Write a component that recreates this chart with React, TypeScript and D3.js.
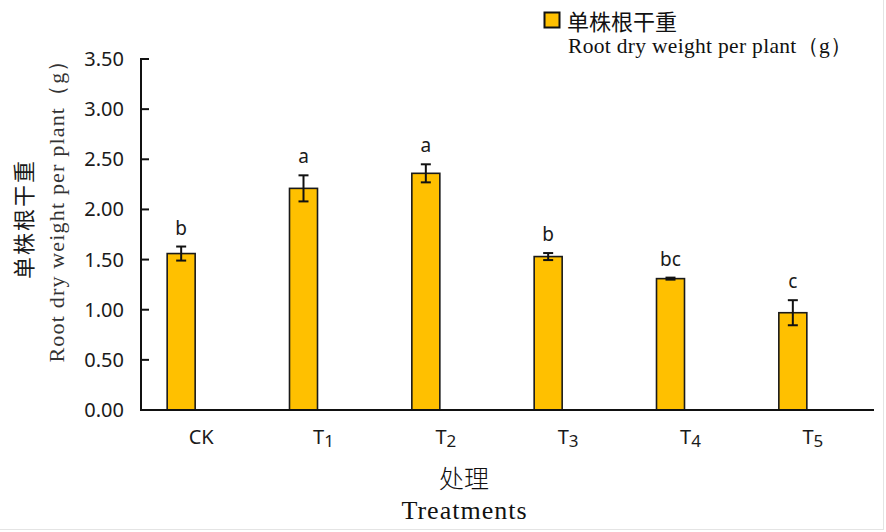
import React from "react";
import * as d3 from "d3";

const categories = ["CK", "T1", "T2", "T3", "T4", "T5"];
const tickMain = ["CK", "T", "T", "T", "T", "T"];
const tickSub = ["", "1", "2", "3", "4", "5"];
const means = [1.56, 2.21, 2.36, 1.53, 1.31, 0.97];
const errors = [0.07, 0.13, 0.09, 0.035, 0.01, 0.125];
const letters = ["b", "a", "a", "b", "bc", "c"];
const yTicks = [0, 0.5, 1, 1.5, 2, 2.5, 3, 3.5];

const W = 886;
const H = 532;
const axisLeft = 141;
const axisRight = 874;
const plotTop = 59;
const plotBottom = 410;
const barOffset = -20;
const barWidth = 28;
const capW = 10;

export default function App() {
  const x = d3.scaleBand<string>().domain(categories).range([140, 874]);
  const y = d3.scaleLinear().domain([0, 3.5]).range([plotBottom, plotTop]);
  const sans = "'Noto Sans', 'DejaVu Sans', sans-serif";
  const serif = "'Liberation Serif', 'DejaVu Serif', serif";
  const cjk = "'Noto Sans CJK SC', sans-serif";

  return (
    <svg width={W} height={H} style={{ position: "absolute", left: 0, top: 0, background: "#fff" }}>
      <rect x={0} y={0} width={W} height={H} fill="#fff" />
      <line x1={883.5} y1={0} x2={883.5} y2={530} stroke="#e4e4e4" strokeWidth={1} />
      <line x1={0} y1={529.5} x2={884} y2={529.5} stroke="#e4e4e4" strokeWidth={1} />

      {/* legend */}
      <rect x={544.5} y={12.5} width={15} height={15} fill="#FFC000" stroke="#111" strokeWidth={2} />
      <text x={567} y={30} fontFamily={cjk} fontSize={22} fill="#111">单株根干重</text>
      <text x={568} y={53} fontFamily={serif} fontSize={21.5} fill="#111" textLength={284} lengthAdjust="spacing">
        Root dry weight per plant（g）
      </text>

      {/* bars */}
      {categories.map((c, i) => {
        const cx = (x(c) as number) + x.bandwidth() / 2 + barOffset;
        return (
          <rect
            key={c}
            x={cx - barWidth / 2}
            y={y(means[i])}
            width={barWidth}
            height={plotBottom - y(means[i])}
            fill="#FFC000"
            stroke="#1a1a1a"
            strokeWidth={1.6}
          />
        );
      })}

      {/* error bars */}
      {categories.map((c, i) => {
        const cx = (x(c) as number) + x.bandwidth() / 2 + barOffset;
        const yt = y(means[i] + errors[i]);
        const yb = y(means[i] - errors[i]);
        return (
          <g key={"e" + c} stroke="#111" strokeWidth={2}>
            <line x1={cx} x2={cx} y1={yt} y2={yb} />
            <line x1={cx - capW / 2} x2={cx + capW / 2} y1={yt} y2={yt} />
            <line x1={cx - capW / 2} x2={cx + capW / 2} y1={yb} y2={yb} />
          </g>
        );
      })}

      {/* significance letters */}
      {categories.map((c, i) => {
        const cx = (x(c) as number) + x.bandwidth() / 2 + barOffset;
        return (
          <text key={"l" + c} x={cx} y={y(means[i] + errors[i]) - 12} textAnchor="middle" fontFamily={sans} fontSize={19} fill="#1a1a1a">
            {letters[i]}
          </text>
        );
      })}

      {/* axes */}
      <line x1={axisLeft} x2={axisLeft} y1={plotTop - 1} y2={plotBottom} stroke="#111" strokeWidth={2} />
      <line x1={140} x2={axisRight} y1={plotBottom} y2={plotBottom} stroke="#111" strokeWidth={2} />
      {yTicks.map((t) => (
        <g key={"t" + t}>
          <line x1={axisLeft} x2={axisLeft + 8} y1={y(t)} y2={y(t)} stroke="#111" strokeWidth={2} />
          <text x={124} y={y(t)} dy="0.35em" textAnchor="end" fontFamily={sans} fontSize={20} fill="#1a1a1a">
            {d3.format(".2f")(t)}
          </text>
        </g>
      ))}
      {categories.map((c, i) => {
        const cx = (x(c) as number) + x.bandwidth() / 2;
        return (
          <text key={"x" + c} x={cx} y={444} textAnchor="middle" fontFamily={sans} fontSize={20} fill="#1a1a1a">
            {tickMain[i]}
            {tickSub[i] ? (
              <tspan fontSize={17} dy={3}>{tickSub[i]}</tspan>
            ) : null}
          </text>
        );
      })}

      {/* axis titles */}
      <text x={464} y={488} textAnchor="middle" fontFamily={cjk} fontSize={25} fontWeight={300} fill="#111">处理</text>
      <text x={464} y={519} textAnchor="middle" fontFamily={serif} fontSize={26} fill="#111" textLength={125} lengthAdjust="spacing">
        Treatments
      </text>

      <g transform="translate(32,219) rotate(-90)">
        <text x={0} y={0} textAnchor="middle" fontFamily={cjk} fontSize={22} fill="#1a1a1a" letterSpacing={2}>
          单株根干重
        </text>
      </g>
      <g transform="translate(64,206) rotate(-90)">
        <text x={0} y={0} textAnchor="middle" fontFamily={serif} fontSize={22} fill="#333" textLength={313} lengthAdjust="spacing">
          Root dry weight per plant（g）
        </text>
      </g>
    </svg>
  );
}
